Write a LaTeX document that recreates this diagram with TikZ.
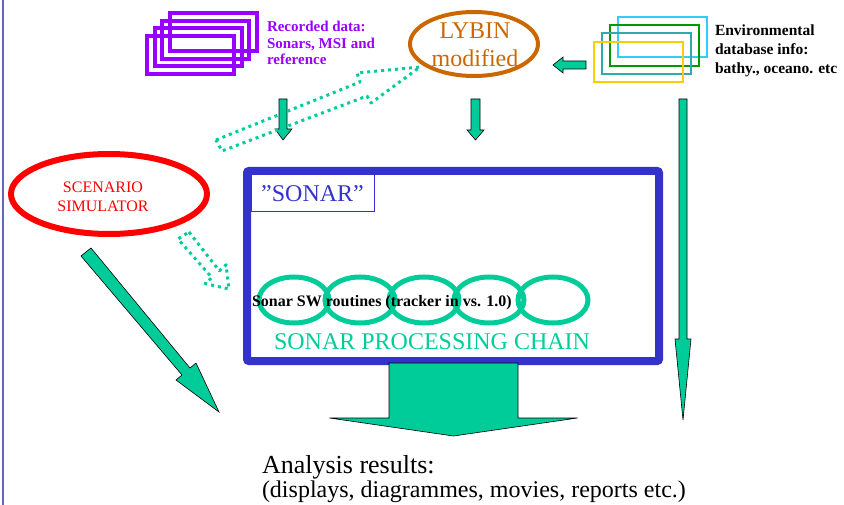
\documentclass[tikz,border=0pt]{standalone}
\usepackage{fontspec}
\setmainfont{Liberation Serif}
\definecolor{purp}{HTML}{9900FF}
\definecolor{lyb}{HTML}{CC6600}
\definecolor{sonblue}{HTML}{3333CC}
\definecolor{tealg}{HTML}{00CC99}
\definecolor{edgeblue}{HTML}{6666BB}
\definecolor{envcyan}{HTML}{33CCFF}
\definecolor{envgreen}{HTML}{009900}
\definecolor{envteal}{HTML}{33AAAA}
\definecolor{envyellow}{HTML}{FFCC00}
\definecolor{scenred}{HTML}{FF0000}
\begin{document}
\begin{tikzpicture}[x=1pt,y=-1pt,
  blockarrow/.style={fill=tealg, draw=black, line width=0.6pt, line join=miter},
  dotarrow/.style={draw=tealg, line width=3pt, dash pattern=on 3pt off 4pt, line join=round},
  lbl/.style={inner sep=0pt, outer sep=0pt},
  purprect/.style={draw=purp, line width=4pt},
  chainell/.style={draw=tealg, line width=5pt}]
\useasboundingbox (0,0) rectangle (844,505);

% left edge line
\draw[edgeblue, line width=2pt] (3,0) -- (3,505);

% recorded data stack
\foreach \k in {3,2,1,0} {
  \draw[purprect] ({147+7.67*\k},{36-7.67*\k}) rectangle ({234+7.67*\k},{74-7.67*\k});
}
\node[lbl, anchor=base west, text=purp] (rec) at (267,32)
  {\fontsize{15}{16.5}\selectfont\bfseries\begin{tabular}[t]{@{}l@{}}Recorded data:\\Sonars, MSI and\\reference\end{tabular}};

% environmental database stack
\draw[envcyan, line width=1.5pt] (618,17) rectangle (707,57);
\draw[envgreen, line width=1.5pt] (610,25) rectangle (699,66);
\draw[envteal, line width=1.5pt] (602,33) rectangle (691,74);
\draw[envyellow, line width=2.5pt] (594,42) rectangle (683,82);
\node[lbl, anchor=base west] (env) at (715,36)
  {\fontsize{15.5}{19}\selectfont\bfseries\begin{tabular}[t]{@{}l@{}}Environmental\\database info:\\bathy., oceano. etc\end{tabular}};

% LYBIN
\draw[lyb, line width=4pt] (474,44) ellipse [x radius=64, y radius=32];
\node[lbl, anchor=base, text=lyb] (lybin) at (475,39)
  {\fontsize{24}{28}\selectfont\begin{tabular}[t]{@{}c@{}}LYBIN\\modified\end{tabular}};

% scenario simulator
\draw[scenred, line width=6pt] (109,194) ellipse [x radius=98, y radius=40];
\node[lbl, anchor=base, text=scenred] (scen) at (103,193)
  {\fontsize{16}{19}\selectfont\begin{tabular}[t]{@{}c@{}}SCENARIO\\SIMULATOR\end{tabular}};

% SONAR box
\draw[sonblue, line width=8pt, rounded corners=2pt] (247,171) rectangle (659,361);
\node[draw=sonblue, line width=1pt, minimum width=123pt, minimum height=37pt, inner sep=0pt,
  text=sonblue, font=\fontsize{24}{28}\selectfont] (sonarlbl) at (312.5,193.5) {”SONAR”};

% processing chain
\foreach \cx in {294,360,424,489,553} {
  \draw[chainell] (\cx,300) ellipse [x radius=35, y radius=23];
}
\node[lbl, anchor=base west, font=\fontsize{16}{19}\selectfont\bfseries] (sw) at (252,307)
  {Sonar SW routines (tracker in vs. 1.0)};
\node[lbl, anchor=base west, text=tealg, font=\fontsize{24}{28}\selectfont] (chain) at (274,349)
  {SONAR PROCESSING CHAIN};

% solid block arrows
\draw[blockarrow] (586,61) -- (563,61) -- (563,57) -- (553,65) -- (563,73) -- (563,69) -- (586,69) -- cycle;
\draw[blockarrow] (471,99) -- (480,99) -- (480,130) -- (484,130) -- (475.5,140) -- (467,130) -- (471,130) -- cycle;
\draw[blockarrow] (279,99) -- (287,99) -- (287,129) -- (292,129) -- (283,140) -- (275,129) -- (279,129) -- cycle;
\draw[blockarrow] (679,99) -- (687,99) -- (687,339) -- (691,339) -- (683,420) -- (675,339) -- (679,339) -- cycle;
\draw[blockarrow] (389,363) -- (518,363) -- (518,418) -- (577.5,418) -- (453.5,436) -- (329.5,418) -- (389,418) -- cycle;
\draw[blockarrow] (91,248) -- (190,368) -- (196,363) -- (219,412) -- (176,380) -- (182,375) -- (81,256) -- cycle;

% dotted outline arrows
\draw[dotarrow] (216,140) -- (360,82) -- (357,73) -- (420,67) -- (371,103) -- (367,96) -- (222,151) -- cycle;
\draw[dotarrow] (189,232) -- (219.3,270.8) -- (226,264.8) -- (229,289) -- (205.2,283.6) -- (211.9,277.6) -- (178,239) -- cycle;

% analysis results
\node[lbl, anchor=base west, font=\fontsize{26}{30}\selectfont] (anl1) at (262,473) {Analysis results:};
\node[lbl, anchor=base west, font=\fontsize{24}{28}\selectfont] (anl2) at (262,497) {(displays, diagrammes, movies, reports etc.)};
\end{tikzpicture}
\end{document}
